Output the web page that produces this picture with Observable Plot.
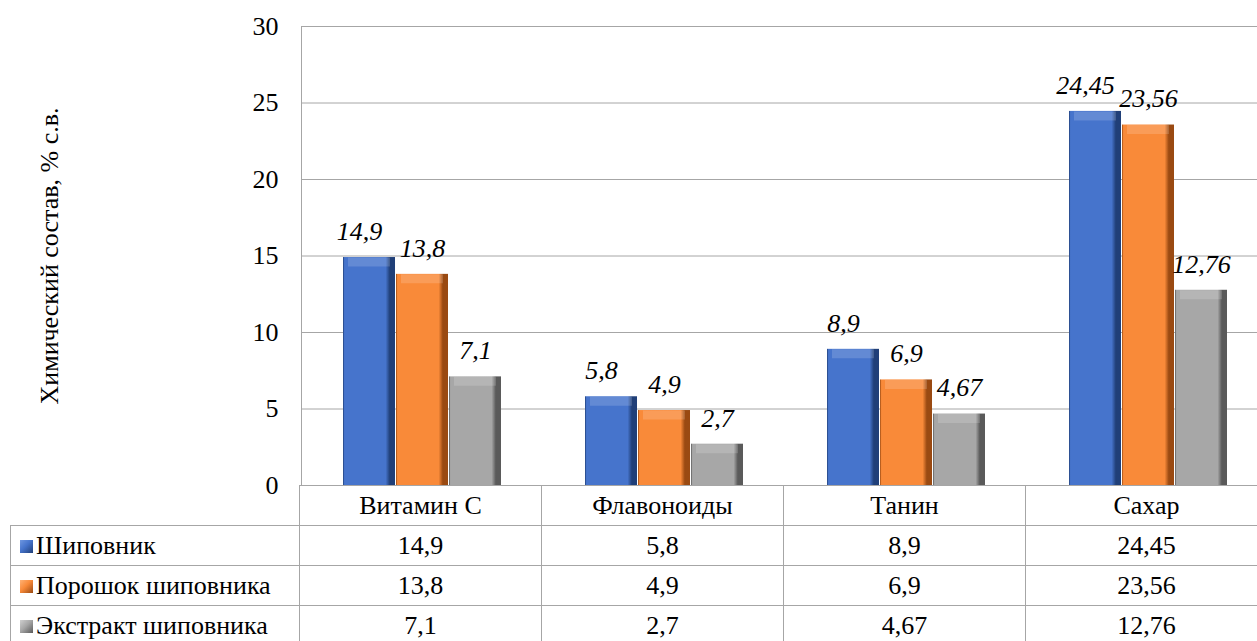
<!DOCTYPE html>
<html><head><meta charset="utf-8">
<script src="https://cdn.jsdelivr.net/npm/d3@7"></script>
<script src="https://cdn.jsdelivr.net/npm/@observablehq/plot@0.6"></script>
<style>
html,body{margin:0;padding:0;background:#fff;overflow:hidden;width:1257px;height:641px}
#wrap{position:relative;width:1257px;height:641px;overflow:hidden}
table{position:absolute;left:10px;top:485px;border-collapse:collapse;table-layout:fixed;font-size:26px;color:#000}
td{border:1px solid #a6a6a6;text-align:center;padding:0;white-space:nowrap;overflow:hidden;line-height:1}
td.leg{text-align:left}
.sw{display:inline-block;width:13px;height:13px;margin:0 3px 0 9px;vertical-align:1px}
</style></head><body><div id="wrap"></div>
<script>
const categories = ["Витамин С", "Флавоноиды", "Танин", "Сахар"];
const seriesNames = ["Шиповник", "Порошок шиповника", "Экстракт шиповника"];
const shipovnik = [14.9, 5.8, 8.9, 24.45];
const poroshok = [13.8, 4.9, 6.9, 23.56];
const ekstrakt = [7.1, 2.7, 4.67, 12.76];
const yTicks = [0, 5, 10, 15, 20, 25, 30];
const yLabel = "Химический состав, % с.в.";

const seriesValues = [shipovnik, poroshok, ekstrakt];
const palette = [
  {id: "gBlue", dark: "#203f78", main: "#4674cc", light: "#6f97e0"},
  {id: "gOrange", dark: "#9a4a12", main: "#f98a39", light: "#ffb276"},
  {id: "gGray", dark: "#5a5a5a", main: "#a7a7a7", light: "#cfcfcf"}
];
const fmt = v => String(v).replace(".", ",");

const rows = [];
seriesNames.forEach((s, i) => categories.forEach((c, j) =>
  rows.push({category: c, series: s, value: seriesValues[i][j]})));

const font = "'Liberation Serif', serif";
const forceFont = el => el.style.setProperty("font-family", font, "important");
const wrap = document.getElementById("wrap");
forceFont(wrap);

const plot = Plot.plot({
  width: 1257, height: 525,
  marginLeft: 299, marginRight: -13, marginTop: 26, marginBottom: 40,
  style: {fontSize: "26px", color: "#000", background: "transparent"},
  fx: {domain: categories, padding: 0, axis: null},
  x: {domain: seriesNames, paddingInner: 0.02, paddingOuter: 0.76, axis: null},
  y: {domain: [0, 30], axis: null},
  color: {domain: seriesNames, range: palette.map(p => `url(#${p.id})`)},
  marks: [
    Plot.ruleY(yTicks, {y: d => d, stroke: "#a6a6a6", strokeWidth: 1}),
    Plot.frame({anchor: "left", stroke: "#a6a6a6", facetAnchor: "left"}),
    Plot.axisY({ticks: yTicks, tickSize: 0, tickPadding: 23, tickFormat: d => d,
      label: yLabel, labelAnchor: "center", labelArrow: false, labelOffset: 262,
      fontSize: 26, facetAnchor: "left"}),
    Plot.barY(rows, {fx: "category", x: "series", y: "value", fill: "series"}),
    Plot.tickY(rows, {fx: "category", x: "series", y: "value", stroke: "#fff",
      strokeOpacity: 0.16, strokeWidth: 9, dy: 4.5, inset: 5}),
    Plot.text(rows.filter(d => d.series === seriesNames[0]), {fx: "category", x: "series", y: "value",
      text: d => fmt(d.value), dy: -26, dx: -10, fontStyle: "italic", fontSize: 26}),
    Plot.text(rows.filter(d => d.series !== seriesNames[0]), {fx: "category", x: "series", y: "value",
      text: d => fmt(d.value), dy: -26, fontStyle: "italic", fontSize: 26})
  ]
});

const svg = plot.tagName.toLowerCase() === "svg" ? plot : plot.querySelector("svg");
const defs = d3.select(svg).insert("defs", ":first-child");
palette.forEach(p => {
  const g = defs.append("linearGradient").attr("id", p.id).attr("x1", 0).attr("x2", 1).attr("y1", 0).attr("y2", 0);
  [[0, p.dark], [0.03, p.main], [0.12, p.main], [0.82, p.main], [0.9, p.dark], [1, p.dark]]
    .forEach(([o, c]) => g.append("stop").attr("offset", o).attr("stop-color", c));
});
svg.style.display = "block";
svg.style.overflow = "hidden";
forceFont(svg);
svg.querySelectorAll("g, text, tspan").forEach(forceFont);

wrap.appendChild(plot);

const step = plot.scale("fx").step || plot.scale("fx").bandwidth;
const firstCol = 299 - 10;
const table = d3.select(wrap).append("table")
  .style("width", (firstCol + step * categories.length) + "px");
forceFont(table.node());
const cg = table.append("colgroup");
cg.append("col").style("width", firstCol + "px");
categories.forEach(() => cg.append("col").style("width", step + "px"));
const head = table.append("tr").style("height", "40px");
head.append("td").style("border", "none");
categories.forEach(c => head.append("td").append("span").text(c));
seriesNames.forEach((s, i) => {
  const tr = table.append("tr").style("height", "40px");
  const lg = tr.append("td").attr("class", "leg");
  const p = palette[i];
  lg.append("span").attr("class", "sw")
    .style("background", `linear-gradient(135deg, ${p.light} 0%, ${p.main} 45%, ${p.dark} 100%)`);
  lg.append("span").text(s);
  seriesValues[i].forEach(v => tr.append("td").append("span").text(fmt(v)));
});
table.selectAll("td, span").each(function() { forceFont(this); });
</script>
</body></html>
